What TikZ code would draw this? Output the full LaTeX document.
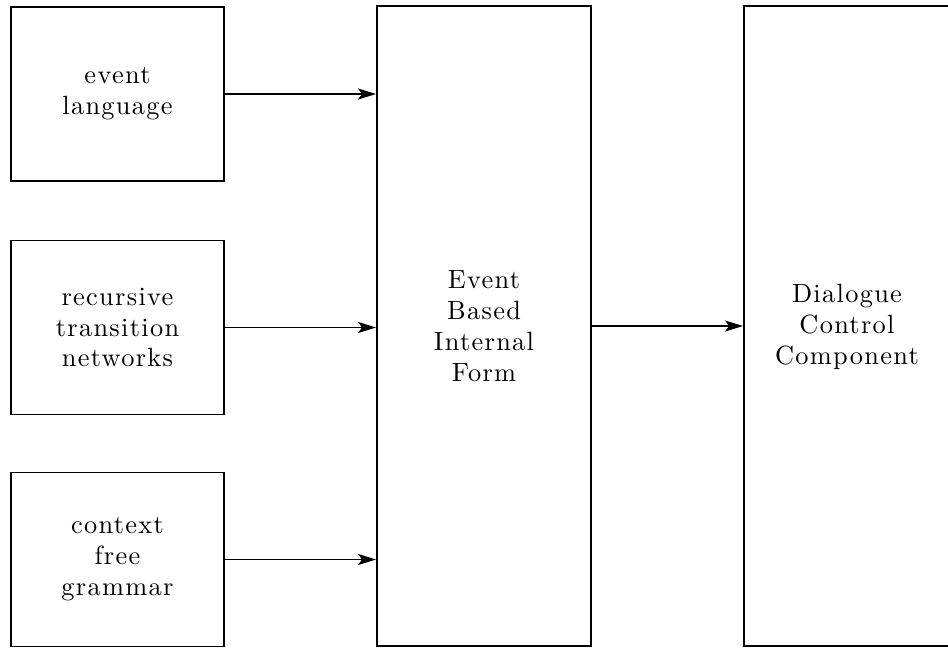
\documentclass[tikz,border=0pt]{standalone}
\usepackage{fontspec}
\setmainfont{lmroman10-regular.otf}[LetterSpace=5]
\usetikzlibrary{positioning, arrows.meta}

\begin{document}
\begin{tikzpicture}[x=0.02cm, y=-0.02cm, line width=1.1pt,
    every node/.style={draw, align=center, line width=1.1pt,
        font=\fontsize{15}{17.6}\selectfont},
    srcbox/.style={minimum width=4.26cm, minimum height=3.48cm},
    bigbox/.style={minimum width=4.28cm, minimum height=12.8cm},
    >={Stealth[length=0.36cm, width=0.22cm, inset=0.08cm]}]
    \useasboundingbox (0,0) rectangle (948,647);
    \clip (0,0) rectangle (948,647);

    \node (evlang)  [srcbox] at (117.5,94)    {event\\language};
    \node (rtn)     [srcbox] at (117.5,327.5) {recursive\\transition\\networks};
    \node (cfg)     [srcbox] at (117.5,559.5) {context\\free\\grammar};

    \node (ebif)    [bigbox] at (484,326)     {Event\\Based\\Internal\\Form};
    \node (dcc)     [bigbox, minimum width=5.12cm] at (872,326) {};
    \node (dcclbl)  [draw=none] at (847,327)  {Dialogue\\Control\\Component};

    \draw[->] (evlang) -- (ebif.west |- evlang.east);
    \draw[->] (rtn)    -- (ebif.west |- rtn.east);
    \draw[->] (cfg)    -- (ebif.west |- cfg.east);

    \draw[->] (ebif)   -- (dcc.west |- ebif.east);
\end{tikzpicture}
\end{document}
